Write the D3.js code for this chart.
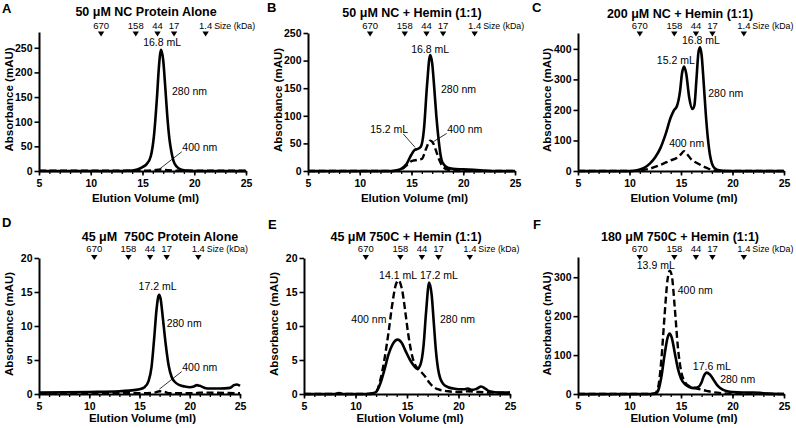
<!DOCTYPE html>
<html><head><meta charset="utf-8">
<script src="https://cdn.jsdelivr.net/npm/d3@7"></script>
<style>
body{margin:0;background:#fff;}
svg{display:block;font-family:Arial,"Liberation Sans",Helvetica,sans-serif;}
</style></head><body>
<svg id="c" width="796" height="428"></svg>
<script>
// ---------- data ----------
const xTicks = [5, 10, 15, 20, 25];
const sizeLabels = ["670", "158", "44", "17", "1.4"];
const sizeVol = [11, 14.35, 16.45, 18.05, 21.1];
const sizeVolD = [10.5, 13.9, 16.05, 17.7, 20.85];

const letters = ["A", "B", "C", "D", "E", "F"];
const titles = ["50 μM NC Protein Alone", "50 μM NC + Hemin (1:1)", "200 μM NC + Hemin (1:1)",
                "45 μM  750C Protein Alone", "45 μM 750C + Hemin (1:1)", "180 μM 750C + Hemin (1:1)"];
const yMax = [282, 250, 452, 20, 20, 352];
const yTicksA = [0, 50, 100, 150, 200, 250];
const yTicksB = [0, 50, 100, 150, 200, 250];
const yTicksC = [0, 100, 200, 300, 400];
const yTicksD = [0, 5, 10, 15, 20];
const yTicksE = [0, 5, 10, 15, 20];
const yTicksF = [0, 100, 200, 300];

// A
const A_vol280 = [5, 13, 14, 14.5, 15, 15.4, 15.8, 16.1, 16.4, 16.6, 16.8, 17.0, 17.2, 17.4, 17.6, 17.8, 18.0, 18.3, 18.7, 19.2, 20, 25];
const A_abs280 = [0, 0, 1, 3, 8, 14, 30, 70, 150, 215, 246, 225, 170, 110, 65, 38, 20, 9, 3, 1, 0, 0];
const A_vol400 = [5, 15, 16, 16.8, 17.5, 18.5, 25];
const A_abs400 = [0.5, 0.5, 1.5, 3, 1.5, 0.5, 0.5];
// B
const B_vol280 = [5, 13, 13.5, 14, 14.5, 15, 15.3, 15.6, 15.9, 16.2, 16.5, 16.8, 17.0, 17.2, 17.4, 17.6, 17.8, 18.0, 18.5, 19, 20, 21, 22, 23, 25];
const B_abs280 = [0, 0, 1, 4, 12, 30, 38, 40, 44, 75, 155, 210, 195, 150, 100, 60, 30, 15, 6, 4, 3, 2, 1, 0, 0];
const B_vol400 = [5, 13, 14, 14.5, 15, 15.5, 16, 16.4, 16.8, 17.1, 17.4, 17.8, 18.2, 18.6, 19, 25];
const B_abs400 = [0, 0, 3, 10, 18, 20, 22, 40, 55, 50, 35, 15, 5, 2, 0, 0];
// C
const C_vol280 = [5, 10, 10.5, 11, 11.5, 12, 12.5, 13, 13.5, 14, 14.3, 14.6, 14.9, 15.1, 15.3, 15.5, 15.8, 16.1, 16.3, 16.5, 16.7, 16.85, 17.0, 17.2, 17.4, 17.6, 17.8, 18.0, 18.3, 18.7, 19.5, 25];
const C_abs280 = [0, 0, 1, 5, 12, 25, 45, 75, 120, 175, 198, 212, 260, 320, 342, 320, 240, 203, 215, 300, 390, 405, 380, 290, 190, 110, 55, 25, 8, 2, 0, 0];
const C_vol400 = [5, 10, 11, 12, 13, 14, 14.7, 15.0, 15.3, 15.6, 16, 16.5, 17, 17.5, 18, 18.5, 25];
const C_abs400 = [0, 0, 2, 8, 20, 35, 45, 55, 65, 55, 38, 27, 18, 10, 3, 0, 0];
// D
const D_vol280 = [5, 10, 13, 14, 15, 15.5, 15.9, 16.2, 16.45, 16.7, 16.85, 16.95, 17.1, 17.3, 17.6, 17.9, 18.2, 18.5, 19.0, 19.5, 20.0, 20.4, 20.7, 21.0, 21.5, 22, 23, 24, 24.4, 24.7, 25];
const D_abs280 = [0.2, 0.3, 0.4, 0.5, 0.7, 1.0, 1.9, 4.0, 8.0, 12.5, 14.2, 14.6, 14.0, 11.5, 7.4, 4.2, 2.5, 1.8, 1.3, 1.1, 1.0, 1.1, 1.3, 1.2, 0.9, 0.8, 0.8, 0.9, 1.3, 1.4, 1.2];
const D_vol400 = [5, 15, 16.5, 17, 17.5, 18, 20.5, 21, 25];
const D_abs400 = [0.1, 0.1, 0.2, 0.4, 0.3, 0.1, 0.1, 0.2, 0.1];
// E
const E_vol280 = [5, 11, 11.6, 12.0, 12.4, 12.8, 13.2, 13.6, 14.1, 14.5, 14.9, 15.3, 15.7, 16.0, 16.3, 16.6, 16.85, 17.15, 17.4, 17.6, 17.8, 18.1, 18.5, 19.0, 19.5, 20.0, 20.5, 20.9, 21.3, 21.8, 22.2, 22.6, 23.0, 24, 25];
const E_abs280 = [0, 0, 0.1, 0.3, 1.5, 3.5, 5.8, 7.3, 8.0, 7.5, 6.2, 5.0, 4.1, 3.7, 4.3, 7.0, 12.0, 16.4, 14.5, 10.5, 6.5, 3.0, 1.5, 1.0, 0.8, 0.7, 0.7, 0.8, 0.6, 0.8, 1.1, 0.8, 0.4, 0.2, 0.2];
const E_vol400 = [5, 8, 8.4, 8.8, 11.5, 12.0, 12.4, 12.8, 13.2, 13.6, 13.9, 14.15, 14.5, 14.8, 15.1, 15.4, 15.7, 16.0, 16.4, 16.8, 17.2, 17.6, 18, 19, 20, 21, 22, 23, 25];
const E_abs400 = [0, 0, 0.15, 0, 0, 0.3, 2.0, 5, 9, 13.5, 16, 16.7, 15.5, 12.5, 9, 6.3, 4.6, 3.8, 3.2, 2.5, 1.6, 1.0, 0.7, 0.4, 0.3, 0.4, 0.3, 0.2, 0.2];
// F
const F_vol280 = [5, 12, 12.5, 12.8, 13.1, 13.4, 13.7, 13.9, 14.1, 14.4, 14.7, 15.0, 15.4, 15.8, 16.3, 16.7, 17.0, 17.2, 17.5, 17.8, 18.2, 18.6, 19.0, 19.5, 20, 21, 22, 23, 24, 25];
const F_abs280 = [0, 0, 1, 10, 45, 100, 145, 155, 145, 105, 65, 40, 25, 18, 15, 18, 30, 45, 55, 50, 35, 20, 12, 7, 5, 4, 4, 2, 0.5, 0];
const F_vol400 = [5, 12, 12.5, 12.8, 13.1, 13.4, 13.7, 13.9, 14.1, 14.4, 14.7, 15.0, 15.4, 15.8, 16.3, 17, 17.5, 18, 19, 20, 25];
const F_abs400 = [0, 0, 2, 20, 90, 200, 295, 317, 305, 220, 120, 60, 30, 20, 16, 11, 8, 5, 2, 1, 0];

// ---------- layout ----------
const panels = [
  {left: 39,  right: 246, top: 32,  bottom: 171, row: 0, yTicks: yTicksA, sizes: sizeVol,
   s280: [A_vol280, A_abs280], s400: [A_vol400, A_abs400],
   notes: [["16.8 mL", 16.9, 253, "middle"], ["280 nm", 17.85, 154, "start"], ["400 nm", 18.85, 40, "start"]],
   leaders: [[18.79, 39, 16.62, 3.5]]},
  {left: 308, right: 515, top: 33,  bottom: 171, row: 0, yTicks: yTicksB, sizes: sizeVol,
   s280: [B_vol280, B_abs280], s400: [B_vol400, B_abs400],
   notes: [["16.8 mL", 16.8, 214, "middle"], ["280 nm", 17.85, 141, "start"], ["15.2 mL", 12.85, 69, "middle"], ["400 nm", 18.45, 69, "start"]],
   leaders: [[14.21, 67, 15.34, 43], [18.4, 68, 17.1, 53]]},
  {left: 578, right: 784, top: 33,  bottom: 171, row: 0, yTicks: yTicksC, sizes: sizeVol,
   s280: [C_vol280, C_abs280], s400: [C_vol400, C_abs400],
   notes: [["16.8 mL", 16.94, 416, "middle"], ["15.2 mL", 14.5, 352, "middle"], ["280 nm", 17.65, 241, "start"], ["400 nm", 15.55, 78, "middle"]],
   leaders: []},
  {left: 39,  right: 240, top: 258, bottom: 394, row: 1, yTicks: yTicksD, sizes: sizeVolD,
   s280: [D_vol280, D_abs280], s400: [D_vol400, D_abs400],
   notes: [["17.2 mL", 16.8, 15.3, "middle"], ["280 nm", 17.7, 9.9, "start"], ["400 nm", 19.25, 3.4, "start"]],
   leaders: [[19.2, 3.3, 16.97, 0.7]]},
  {left: 304, right: 510, top: 258, bottom: 394, row: 1, yTicks: yTicksE, sizes: sizeVol,
   s280: [E_vol280, E_abs280], s400: [E_vol400, E_abs400],
   notes: [["14.1 mL", 14.13, 16.9, "middle"], ["17.2 mL", 18.1, 16.9, "middle"], ["400 nm", 11.3, 10.4, "middle"], ["280 nm", 18.2, 10.4, "start"]],
   leaders: []},
  {left: 578, right: 784, top: 257, bottom: 394, row: 1, yTicks: yTicksF, sizes: sizeVol,
   s280: [F_vol280, F_abs280], s400: [F_vol400, F_abs400],
   notes: [["13.9 mL", 12.55, 321, "middle"], ["400 nm", 14.68, 257, "start"], ["17.6 mL", 17.99, 62, "middle"], ["280 nm", 18.8, 28, "start"]],
   leaders: []}
];
const rowOrigin = [0, 214];
const letterX = [2, 267, 532, 2, 268, 533];
const letterY = [13, 12, 12, 227, 229, 229];
const titleX = [146, 412, 680, 160, 406, 680];
const titleY = [16, 17, 18, 241, 241, 241];

const svg = d3.select("#c");

panels.forEach((p, i) => {
  const x = d3.scaleLinear().domain([5, 25]).range([p.left, p.right]);
  const y = d3.scaleLinear().domain([0, yMax[i]]).range([p.bottom, p.top]);
  const g = svg.append("g");

  // panel letter and title
  g.append("text").attr("x", letterX[i]).attr("y", letterY[i]).text(letters[i])
    .attr("font-size", 13).attr("font-weight", "bold");
  g.append("text").attr("x", titleX[i]).attr("y", titleY[i]).text(titles[i])
    .attr("text-anchor", "middle").attr("font-size", 12.5).attr("font-weight", "bold")
    .style("white-space", "pre");

  // size markers
  const labY = p.row === 0 ? 28.5 : 252;
  const triY = p.row === 0 ? 31.5 : 255;
  p.sizes.forEach((v, k) => {
    const cx = x(v);
    g.append("text").attr("x", cx).attr("y", labY).text(sizeLabels[k])
      .attr("text-anchor", "middle").attr("font-size", 9.5);
    g.append("path").attr("d", `M${cx - 3.2},${triY}L${cx + 3.2},${triY}L${cx},${triY + 5}Z`).attr("fill", "#000");
  });
  g.append("text").attr("x", x(p.sizes[4]) + 8.5).attr("y", labY).text("Size (kDa)").attr("font-size", 8.8);

  // axes
  const xMinor = d3.range(5, 26, 1);
  g.append("g").attr("transform", `translate(0,${p.bottom})`)
    .call(d3.axisBottom(x).tickValues(xMinor).tickSize(3).tickSizeOuter(0).tickFormat(""))
    .call(a => a.select(".domain").remove())
    .call(a => a.selectAll("line").attr("stroke-width", 1.3));
  g.append("g").attr("transform", `translate(0,${p.bottom})`)
    .call(d3.axisBottom(x).tickValues(xTicks).tickSize(4.5).tickSizeOuter(0).tickPadding(4))
    .call(a => a.select(".domain").attr("stroke-width", 2))
    .call(a => a.selectAll("line").attr("stroke-width", 1.6))
    .call(a => a.selectAll("text").attr("font-size", 10.5).attr("font-weight", "bold").attr("fill", "#000")
      .attr("font-family", "Arial, 'Liberation Sans', sans-serif"));
  g.append("g").attr("transform", `translate(${p.left},0)`)
    .call(d3.axisLeft(y).tickValues(p.yTicks).tickSize(4.5).tickSizeOuter(0).tickPadding(2))
    .call(a => a.select(".domain").attr("stroke-width", 2))
    .call(a => a.selectAll("line").attr("stroke-width", 1.6))
    .call(a => a.selectAll("text").attr("font-size", 10.5).attr("font-weight", "bold").attr("fill", "#000")
      .attr("font-family", "Arial, 'Liberation Sans', sans-serif"));

  // axis titles
  const xtY = p.row === 0 ? 201.5 : 421.5;
  g.append("text").attr("x", (p.left + p.right) / 2 + 3).attr("y", xtY).text("Elution Volume (ml)")
    .attr("text-anchor", "middle").attr("font-size", 11.5).attr("font-weight", "bold");
  const ytX = p.left - (i === 2 || i === 5 ? 27 : 26);
  const ytY = (p.bottom + p.top) / 2 - 2;
  g.append("text").attr("transform", `translate(${ytX},${ytY}) rotate(-90)`).text("Absorbance (mAU)")
    .attr("text-anchor", "middle").attr("font-size", 11.5).attr("font-weight", "bold");

  // curves
  const line = d3.line().x(d => x(d[0])).y(d => y(d[1])).curve(d3.curveMonotoneX);
  const pts400 = p.s400[0].map((v, k) => [v, p.s400[1][k]]);
  const pts280 = p.s280[0].map((v, k) => [v, p.s280[1][k]]);
  g.append("path").attr("d", line(pts400)).attr("fill", "none").attr("stroke", "#000")
    .attr("stroke-width", 2.4).attr("stroke-dasharray", "7,3.5");
  g.append("path").attr("d", line(pts280)).attr("fill", "none").attr("stroke", "#000")
    .attr("stroke-width", 2.6).attr("stroke-linejoin", "round");

  // annotations
  p.notes.forEach(n => {
    g.append("text").attr("x", x(n[1])).attr("y", y(n[2])).text(n[0])
      .attr("text-anchor", n[3]).attr("font-size", 10.5);
  });
  p.leaders.forEach(l => {
    g.append("line").attr("x1", x(l[0])).attr("y1", y(l[1])).attr("x2", x(l[2])).attr("y2", y(l[3]))
      .attr("stroke", "#000").attr("stroke-width", 0.8);
  });
});
</script>
</body></html>
